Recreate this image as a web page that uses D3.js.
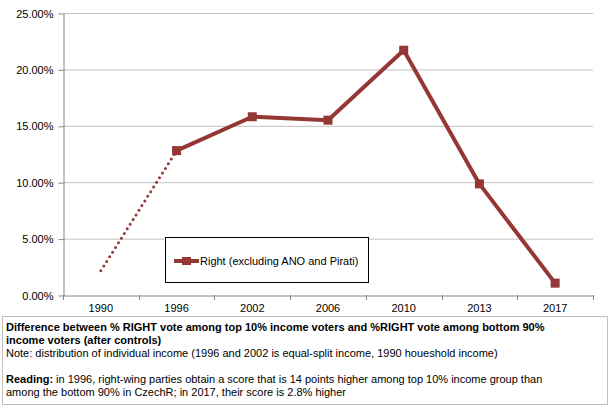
<!DOCTYPE html>
<html><head><meta charset="utf-8">
<script src="https://cdn.jsdelivr.net/npm/d3@7"></script>
<style>
body{margin:0;background:#fff;}
svg{font-family:"Liberation Sans",Arial,sans-serif;}
</style></head>
<body><svg id="c" width="608" height="405"></svg>
<script>
const years = ["1990","1996","2002","2006","2010","2013","2017"];
const rightValues = [2.15, 12.8, 15.8, 15.5, 21.7, 9.85, 1.05];
const yTicks = [0,5,10,15,20,25];
const legendLabel = "Right (excluding ANO and Pirati)";
const color = "#953735";

(function(){
const svg = d3.select("#c");
const mLeft = 63, mRight = 593, mTop = 13, mBottom = 295;
const x = d3.scaleBand().domain(years).range([mLeft, mRight]);
const y = d3.scaleLinear().domain([0,25]).range([mBottom, mTop]);

// gridlines
svg.append("g").selectAll("line").data(yTicks.filter(d=>d>0)).join("line")
  .attr("x1", mLeft).attr("x2", mRight)
  .attr("y1", d=>y(d)+0.5).attr("y2", d=>y(d)+0.5)
  .attr("stroke", "#c0c0c0").attr("stroke-width", 1);

// y axis
const ya = svg.append("g").attr("transform", `translate(${mLeft+0.5},0.5)`)
  .call(d3.axisLeft(y).tickValues(yTicks).tickFormat(d=>d.toFixed(2)+"%").tickSize(5).tickSizeOuter(0));
ya.select(".domain").attr("stroke","#868686");
ya.selectAll(".tick line").attr("stroke","#868686");
ya.selectAll("text").attr("font-size", 11).attr("fill","#000").attr("x",-10)
  .attr("font-family","Liberation Sans, Arial, sans-serif");

// x axis
const xa = svg.append("g").attr("transform", `translate(0,${mBottom+0.5})`)
  .call(d3.axisBottom(x).tickSize(0).tickSizeOuter(0));
xa.select(".domain").attr("stroke","#868686");
xa.selectAll("text").attr("font-size", 11).attr("fill","#000").attr("dy","0.71em").attr("y",9)
  .attr("font-family","Liberation Sans, Arial, sans-serif");
// boundary ticks
const bounds = years.map(d=>x(d)).concat([mRight]);
svg.append("g").selectAll("line").data(bounds).join("line")
  .attr("x1", d=>Math.round(d)+0.5).attr("x2", d=>Math.round(d)+0.5).attr("y1", mBottom).attr("y2", mBottom+5)
  .attr("stroke","#868686");

const pts = years.map((d,i)=>({year:d, v:rightValues[i], cx:x(d)+x.bandwidth()/2, cy:y(rightValues[i])}));
const line = d3.line().x(d=>d.cx).y(d=>d.cy);

// dotted segment
svg.append("path").datum(pts.slice(0,2)).attr("d", line)
  .attr("fill","none").attr("stroke", color).attr("stroke-width", 3)
  .attr("stroke-linecap","round").attr("stroke-dasharray","0 5.5");

// solid line
svg.append("path").datum(pts.slice(1)).attr("d", line)
  .attr("fill","none").attr("stroke", color).attr("stroke-width", 4)
  .attr("stroke-linejoin","round");

// markers
svg.append("g").selectAll("rect").data(pts.slice(1)).join("rect")
  .attr("x", d=>d.cx-4.5).attr("y", d=>d.cy-4.5).attr("width", 9).attr("height", 9)
  .attr("fill", color);

// legend
const lg = svg.append("g");
lg.append("rect").attr("x",165.5).attr("y",237.5).attr("width",203).attr("height",45)
  .attr("fill","#fff").attr("stroke","#000").attr("stroke-width",1);
lg.append("line").attr("x1",174).attr("x2",199).attr("y1",261).attr("y2",261)
  .attr("stroke",color).attr("stroke-width",4);
lg.append("rect").attr("x",182).attr("y",257).attr("width",9).attr("height",8).attr("fill",color);
lg.append("text").attr("x",200).attr("y",265).attr("font-size",11).text(legendLabel);

// note box
svg.append("rect").attr("x",2.5).attr("y",316.5).attr("width",605).attr("height",88)
  .attr("fill","#fff").attr("stroke","#bfbfbf");
const note = svg.append("g").attr("font-size",11).attr("fill","#000");
note.append("text").attr("x",6).attr("y",331).attr("font-weight","bold")
  .text("Difference between % RIGHT  vote among top 10% income voters and %RIGHT  vote among bottom 90%");
note.append("text").attr("x",6).attr("y",344).attr("font-weight","bold")
  .text("income voters (after controls)");
note.append("text").attr("x",6).attr("y",357)
  .text("Note: distribution of individual income (1996 and 2002 is equal-split income, 1990 houeshold income)");
const r = note.append("text").attr("x",6).attr("y",383);
r.append("tspan").attr("font-weight","bold").text("Reading:");
r.append("tspan").text(" in 1996, right-wing parties obtain a score that is 14 points higher among top 10% income group than");
note.append("text").attr("x",6).attr("y",396)
  .text("among the bottom 90% in CzechR; in 2017, their score is 2.8% higher");
})();
</script></body></html>
